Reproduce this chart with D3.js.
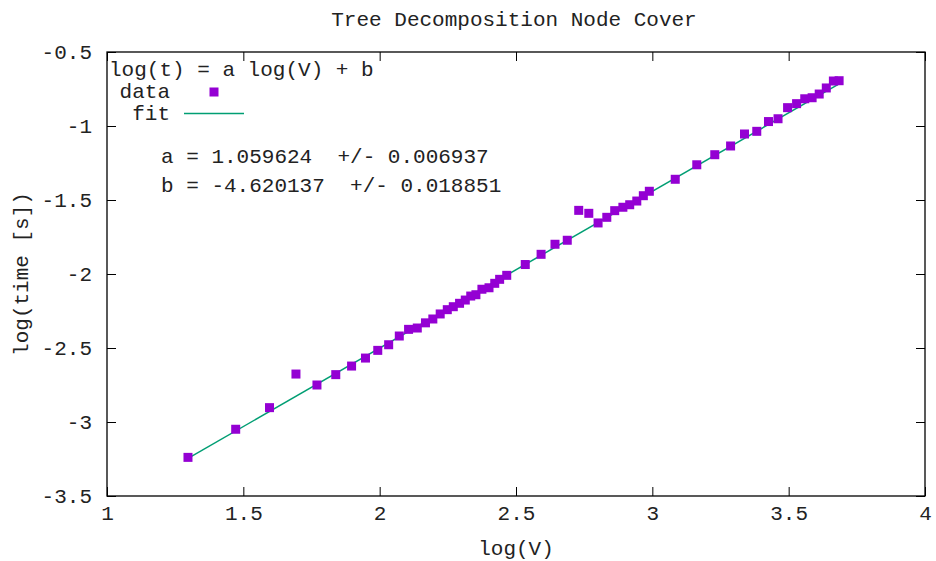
<!DOCTYPE html>
<html>
<head>
<meta charset="utf-8">
<script src="https://cdn.jsdelivr.net/npm/d3@7"></script>
<style>
  body { margin: 0; background: #fff; }
  text { font-family: "Liberation Mono", "DejaVu Sans Mono", monospace; fill: #222; }
</style>
</head>
<body>
<div id="chart"></div>
<script>
// measured points, log10 of vertex count vs log10 of run time
const logV = [1.297, 1.472, 1.596, 1.693, 1.770, 1.839, 1.897, 1.948, 1.993, 2.033,
  2.072, 2.106, 2.138, 2.168, 2.195, 2.222, 2.248, 2.270, 2.293, 2.314,
  2.334, 2.353, 2.375, 2.401, 2.422, 2.440, 2.466, 2.534, 2.592, 2.643,
  2.688, 2.730, 2.767, 2.801, 2.833, 2.862, 2.892, 2.917, 2.943, 2.967,
  2.989, 3.084, 3.163, 3.229, 3.287, 3.338, 3.383, 3.426, 3.461, 3.496,
  3.529, 3.559, 3.586, 3.612, 3.638, 3.664, 3.685];
const logT = [-3.239, -3.049, -2.903, -2.676, -2.750, -2.680, -2.622, -2.568, -2.516, -2.478,
  -2.419, -2.374, -2.365, -2.330, -2.304, -2.270, -2.241, -2.221, -2.198, -2.176,
  -2.149, -2.140, -2.103, -2.093, -2.063, -2.036, -2.009, -1.936, -1.867, -1.799,
  -1.772, -1.570, -1.590, -1.655, -1.617, -1.572, -1.549, -1.532, -1.507, -1.471,
  -1.441, -1.360, -1.262, -1.194, -1.135, -1.054, -1.036, -0.970, -0.951, -0.876,
  -0.849, -0.816, -0.809, -0.784, -0.743, -0.696, -0.694];

// fit result
const fitA = 1.059624, fitAErr = 0.006937;
const fitB = -4.620137, fitBErr = 0.018851;

const xTicks = [1, 1.5, 2, 2.5, 3, 3.5, 4];
const yTicks = [-0.5, -1, -1.5, -2, -2.5, -3, -3.5];

const W = 936, H = 561;
const plotL = 107, plotR = 925, plotT = 52, plotB = 496;

const svg = d3.select("#chart").append("svg")
  .attr("width", W).attr("height", H);

const x = d3.scaleLinear().domain([1, 4]).range([plotL, plotR]);
const y = d3.scaleLinear().domain([-3.5, -0.5]).range([plotB, plotT]);

const fmt = d => String(d);
const tl = 9;

const gx = svg.append("g").attr("transform", `translate(0,${plotB})`)
  .call(d3.axisBottom(x).tickValues(xTicks).tickFormat(fmt).tickSizeInner(-tl).tickSizeOuter(0).tickPadding(22));
const gxt = svg.append("g").attr("transform", `translate(0,${plotT})`)
  .call(d3.axisTop(x).tickValues(xTicks).tickFormat("").tickSizeInner(-tl).tickSizeOuter(0));
const gy = svg.append("g").attr("transform", `translate(${plotL},0)`)
  .call(d3.axisLeft(y).tickValues(yTicks).tickFormat(fmt).tickSizeInner(-tl).tickSizeOuter(0).tickPadding(15));
const gyr = svg.append("g").attr("transform", `translate(${plotR},0)`)
  .call(d3.axisRight(y).tickValues(yTicks).tickFormat("").tickSizeInner(-tl).tickSizeOuter(0));

[gx, gxt, gy, gyr].forEach(g => {
  g.select(".domain").remove();
  g.selectAll(".tick line").attr("stroke", "#000").attr("stroke-width", 1);
  g.selectAll(".tick text").attr("font-size", 21).attr("font-family", null).style("fill", "#222");
});
gx.selectAll(".tick text").attr("dy", "0.1em");
gy.selectAll(".tick text").attr("dy", "0.32em");

svg.append("rect")
  .attr("x", plotL).attr("y", plotT)
  .attr("width", plotR - plotL).attr("height", plotB - plotT)
  .attr("fill", "none").attr("stroke", "#000").attr("stroke-width", 1.3);

// fit line over the data range
const xr = d3.extent(logV);
svg.append("line")
  .attr("x1", x(xr[0])).attr("y1", y(fitA * xr[0] + fitB))
  .attr("x2", x(xr[1])).attr("y2", y(fitA * xr[1] + fitB))
  .attr("stroke", "#009e73").attr("stroke-width", 1.5);

const ms = 9;
svg.append("g").selectAll("rect")
  .data(logV.map((v, i) => [v, logT[i]]))
  .join("rect")
  .attr("x", d => x(d[0]) - ms / 2)
  .attr("y", d => y(d[1]) - ms / 2)
  .attr("width", ms).attr("height", ms)
  .attr("fill", "#9400d3");

// key
svg.append("text").attr("x", 109).attr("y", 76).attr("font-size", 21)
  .text("log(t) = a log(V) + b");
svg.append("text").attr("x", 170).attr("y", 98).attr("font-size", 21)
  .attr("text-anchor", "end").text("data");
svg.append("rect").attr("x", 214 - ms / 2).attr("y", 92 - ms / 2)
  .attr("width", ms).attr("height", ms).attr("fill", "#9400d3");
svg.append("text").attr("x", 170).attr("y", 120).attr("font-size", 21)
  .attr("text-anchor", "end").text("fit");
svg.append("line").attr("x1", 184).attr("x2", 244).attr("y1", 113.5).attr("y2", 113.5)
  .attr("stroke", "#009e73").attr("stroke-width", 1.5);

svg.append("text").attr("x", 161).attr("y", 163).attr("font-size", 21)
  .attr("xml:space", "preserve").style("white-space", "pre")
  .text(`a = ${fitA.toFixed(6)}  +/- ${fitAErr.toFixed(6)}`);
svg.append("text").attr("x", 161).attr("y", 192).attr("font-size", 21)
  .attr("xml:space", "preserve").style("white-space", "pre")
  .text(`b = ${fitB.toFixed(6)}  +/- ${fitBErr.toFixed(6)}`);

// titles
svg.append("text").attr("x", 514).attr("y", 26).attr("font-size", 21)
  .attr("text-anchor", "middle").text("Tree Decomposition Node Cover");
svg.append("text").attr("x", 516).attr("y", 555).attr("font-size", 21)
  .attr("text-anchor", "middle").text("log(V)");
svg.append("text").attr("transform", "translate(28,274) rotate(-90)").attr("font-size", 21)
  .attr("text-anchor", "middle").text("log(time [s])");
</script>
</body>
</html>
